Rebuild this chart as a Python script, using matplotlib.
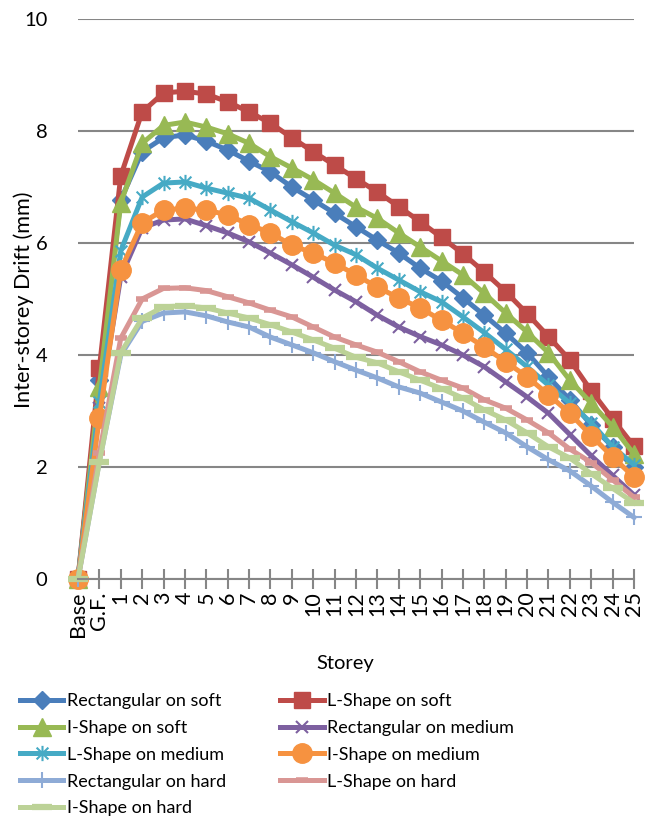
import matplotlib
matplotlib.use("Agg")
import matplotlib.pyplot as plt
from matplotlib.path import Path

storeys = ["Base", "G.F."] + [str(i) for i in range(1, 26)]

rect_soft = [0, 3.55, 6.77, 7.63, 7.88, 7.93, 7.82, 7.66, 7.46, 7.27, 7.0, 6.77, 6.53, 6.29,
             6.05, 5.82, 5.55, 5.32, 5.02, 4.71, 4.39, 4.04, 3.61, 3.2, 2.75, 2.36, 2.0]
l_soft = [0, 3.77, 7.2, 8.34, 8.68, 8.71, 8.66, 8.52, 8.34, 8.14, 7.88, 7.63, 7.39, 7.15,
          6.91, 6.65, 6.38, 6.10, 5.81, 5.48, 5.13, 4.74, 4.33, 3.91, 3.36, 2.86, 2.37]
i_soft = [0, 3.43, 6.72, 7.78, 8.10, 8.16, 8.07, 7.95, 7.78, 7.54, 7.34, 7.13, 6.89, 6.64,
          6.44, 6.18, 5.93, 5.68, 5.43, 5.10, 4.75, 4.41, 4.04, 3.55, 3.14, 2.72, 2.23]
rect_medium = [0, 3.05, 5.4, 6.27, 6.41, 6.43, 6.31, 6.18, 6.02, 5.82, 5.61, 5.39, 5.16, 4.95,
               4.71, 4.5, 4.33, 4.18, 4.0, 3.79, 3.52, 3.25, 2.96, 2.58, 2.2, 1.85, 1.5]
l_medium = [0, 3.16, 5.86, 6.82, 7.07, 7.09, 6.98, 6.89, 6.8, 6.59, 6.38, 6.18, 5.96, 5.79,
            5.55, 5.34, 5.13, 4.95, 4.68, 4.4, 4.1, 3.79, 3.46, 3.14, 2.79, 2.36, 2.04]
i_medium = [0, 2.88, 5.52, 6.36, 6.59, 6.62, 6.59, 6.5, 6.33, 6.18, 5.96, 5.82, 5.64, 5.43,
            5.21, 5.02, 4.84, 4.62, 4.39, 4.14, 3.88, 3.61, 3.29, 2.96, 2.56, 2.18, 1.82]
rect_hard = [0, 2.1, 4.0, 4.6, 4.75, 4.77, 4.7, 4.59, 4.5, 4.32, 4.18, 4.04, 3.88, 3.73,
             3.59, 3.43, 3.32, 3.16, 3.0, 2.8, 2.61, 2.36, 2.13, 1.93, 1.66, 1.37, 1.1]
l_hard = [0, 2.25, 4.3, 5.0, 5.19, 5.2, 5.15, 5.04, 4.93, 4.8, 4.68, 4.5, 4.32, 4.18,
          4.05, 3.88, 3.7, 3.55, 3.41, 3.2, 3.05, 2.84, 2.61, 2.32, 2.08, 1.77, 1.46]
i_hard = [0, 2.09, 4.04, 4.66, 4.86, 4.88, 4.84, 4.75, 4.66, 4.54, 4.41, 4.27, 4.12, 3.96,
          3.86, 3.7, 3.55, 3.4, 3.23, 3.02, 2.84, 2.61, 2.36, 2.16, 1.88, 1.62, 1.36]

# excel style "star": an x with a vertical stroke
star = Path([(-1, -1), (1, 1), (-1, 1), (1, -1), (0, -1.3), (0, 1.3)],
            [Path.MOVETO, Path.LINETO, Path.MOVETO, Path.LINETO, Path.MOVETO, Path.LINETO])

series = [
    ("Rectangular on soft", rect_soft, "#4A7EBB", dict(marker="D", ms=9)),
    ("L-Shape on soft", l_soft, "#BE4B48", dict(marker="s", ms=12)),
    ("I-Shape on soft", i_soft, "#98B954", dict(marker="^", ms=13)),
    ("Rectangular on medium", rect_medium, "#7D60A0", dict(marker="x", ms=9, mew=1.5)),
    ("L-Shape on medium", l_medium, "#46AAC5", dict(marker=star, ms=11, mew=1.5)),
    ("I-Shape on medium", i_medium, "#F69240", dict(marker="o", ms=14)),
    ("Rectangular on hard", rect_hard, "#8EABD6", dict(marker="+", ms=11, mew=1.5)),
    ("L-Shape on hard", l_hard, "#D99694", dict(marker="_", ms=8, mew=4)),
    ("I-Shape on hard", i_hard, "#BCD297", dict(marker="_", ms=15, mew=4.5)),
]

plt.rcParams["font.family"] = ["Lato", "DejaVu Sans"]

fig = plt.figure(figsize=(6.61, 8.23), dpi=100)
ax = fig.add_axes([78 / 661, 1 - 579 / 823, 556 / 661, 560 / 823])

x = list(range(len(storeys)))
handles = []
for label, vals, color, mk in series:
    h, = ax.plot(x, vals, color=color, lw=3.6, label=label, clip_on=False,
                 mfc=color, mec=color, **mk)
    handles.append(h)

ax.set_xlim(0, len(storeys) - 1)
ax.set_ylim(0, 10)
ax.set_yticks([0, 2, 4, 6, 8, 10])
ax.yaxis.grid(True, color="#868686", lw=1.5)
ax.set_axisbelow(True)
for s in ["left", "right", "top"]:
    ax.spines[s].set_visible(False)
ax.spines["bottom"].set_color("#868686")
ax.spines["bottom"].set_linewidth(1.5)
ax.tick_params(axis="y", length=0, pad=22, labelsize=14.5)
ax.tick_params(axis="x", direction="inout", length=14, width=1.5, color="#868686",
               labelsize=15.5, pad=2)
ax.set_xticks(x)
ax.set_xticklabels(storeys, rotation=90, va="top")

fig.text(24 / 661, 1 - 300 / 823, "Inter-storey Drift (mm)", rotation=90,
         ha="center", va="center", fontsize=15.6)
fig.text(345 / 661, 1 - 663 / 823, "Storey", ha="center", va="center", fontsize=14.5)

# legend filled row by row, two columns
order = [0, 2, 4, 6, 8, 1, 3, 5, 7]
leg = fig.legend([handles[i] for i in order], [series[i][0] for i in order],
                 ncol=2, loc="upper left", bbox_to_anchor=(20 / 661, 1 - 693 / 823),
                 frameon=False, fontsize=13, handlelength=2.4, handletextpad=0.2,
                 columnspacing=3.0, labelspacing=0.6, borderaxespad=0, borderpad=0)

fig.savefig("out.png", dpi=100)
